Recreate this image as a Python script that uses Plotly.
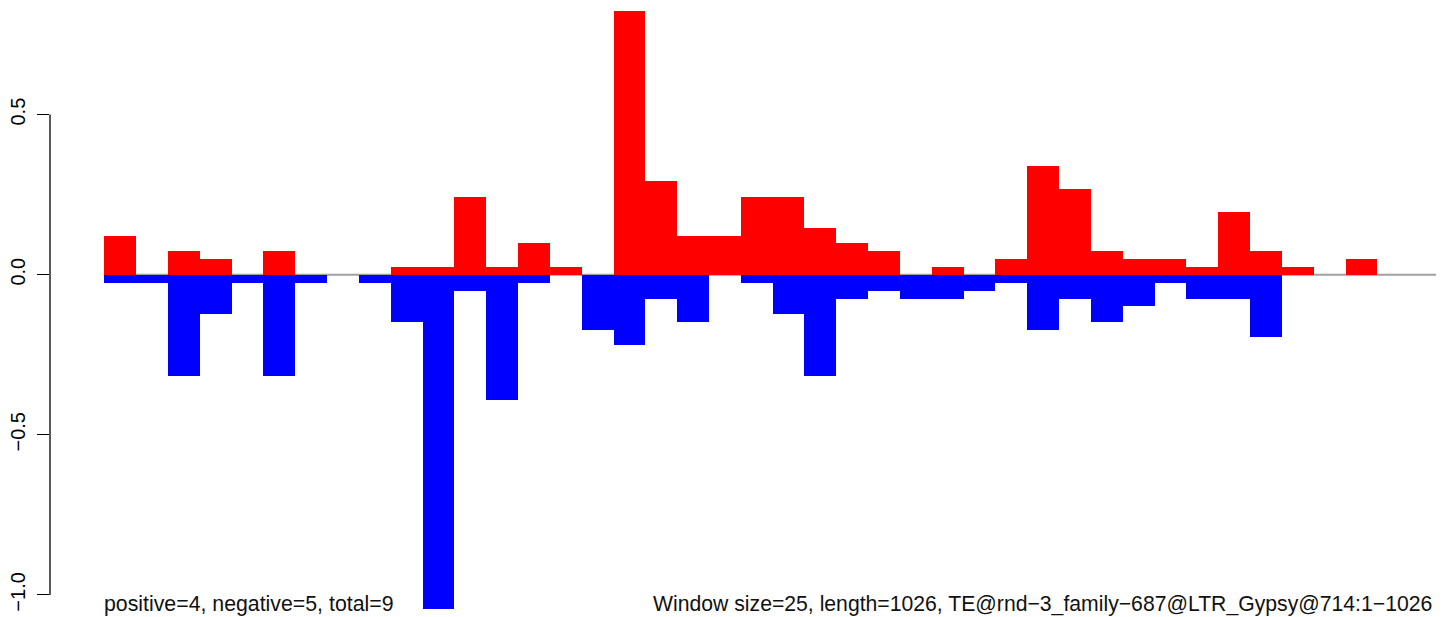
import plotly.graph_objects as go

# one value per 25 bp window (42 windows)
pos_vals = [0.121, 0, 0.074, 0.049, 0, 0.074, 0, 0, 0, 0.024,
            0.024, 0.243, 0.024, 0.099, 0.024, 0, 0.823, 0.293, 0.121, 0.121,
            0.243, 0.243, 0.146, 0.099, 0.074, 0, 0.024, 0, 0.049, 0.339,
            0.268, 0.074, 0.049, 0.049, 0.024, 0.196, 0.074, 0.024, 0, 0.049,
            0, 0]
neg_vals = [-0.025, -0.025, -0.316, -0.123, -0.025, -0.316, -0.025, 0, -0.025, -0.148,
            -1.043, -0.05, -0.391, -0.025, 0, -0.173, -0.220, -0.076, -0.148, 0,
            -0.025, -0.123, -0.316, -0.076, -0.05, -0.076, -0.076, -0.05, -0.025, -0.173,
            -0.076, -0.148, -0.098, -0.025, -0.076, -0.076, -0.194, 0, 0, 0,
            0, 0]
y_ticks = [-1.0, -0.5, 0.0, 0.5]
y_ticktext = ["\u22121.0", "\u22120.5", "0.0", "0.5"]
left_note = "positive=4, negative=5, total=9"
right_note = "Window size=25, length=1026, TE@rnd\u22123_family\u2212687@LTR_Gypsy@714:1\u22121026"

windows = [i + 0.5 for i in range(len(pos_vals))]
FONT = "Liberation Sans, Arial, Helvetica, sans-serif"

fig = go.Figure()
fig.add_trace(go.Bar(x=windows, y=pos_vals, width=1, marker=dict(color="#FF0000", line=dict(width=0))))
fig.add_trace(go.Bar(x=windows, y=neg_vals, width=1, marker=dict(color="#0000FF", line=dict(width=0))))

# zero line behind the bars
fig.add_shape(type="line", xref="x", yref="y", x0=0, x1=len(pos_vals), y0=0, y1=0,
              line=dict(color="#A0A0A0", width=2), layer="below")
# R-style axis line spanning only the tick range
fig.add_shape(type="line", xref="paper", yref="y", x0=0, x1=0, y0=min(y_ticks), y1=max(y_ticks),
              line=dict(color="black", width=1.3))

fig.add_annotation(x=0, y=-1.028, xref="x", yref="y", text=left_note, showarrow=False, xshift=-2,
                   xanchor="left", yanchor="middle", font=dict(size=21.3, color="#111111", family=FONT))
fig.add_annotation(x=len(pos_vals), y=-1.028, xref="x", yref="y", text=right_note, showarrow=False, xshift=-7,
                   xanchor="right", yanchor="middle", font=dict(size=21.2, color="#111111", family=FONT))

# the page body adds an 8px margin, so the figure is 8px smaller than the window
fig.update_layout(
    width=1436,
    height=609,
    margin=dict(l=42, r=3, t=0, b=5),
    plot_bgcolor="white",
    paper_bgcolor="white",
    barmode="overlay",
    bargap=0,
    showlegend=False,
    font=dict(family=FONT, size=20, color="black"),
    xaxis=dict(range=[-1.7067, 42.0], visible=False, showgrid=False, zeroline=False, automargin=False),
    yaxis=dict(
        range=[-1.0534, 0.8329],
        tickvals=y_ticks,
        ticktext=y_ticktext,
        tickangle=-90,
        ticks="outside",
        ticklen=12,
        tickwidth=1.3,
        tickcolor="black",
        ticklabelstandoff=4,
        showline=False,
        showgrid=False,
        zeroline=False,
        automargin=False,
        tickfont=dict(size=20, color="black", family=FONT),
    ),
)

fig.write_html("out.html")
